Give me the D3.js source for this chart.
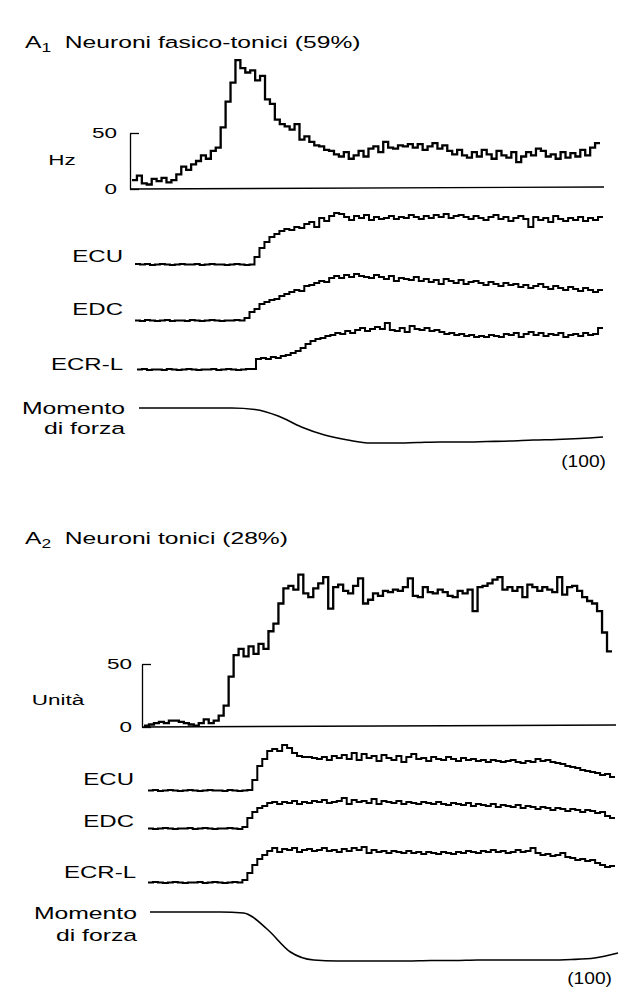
<!DOCTYPE html>
<html>
<head>
<meta charset="utf-8">
<script src="https://cdn.jsdelivr.net/npm/d3@7"></script>
<style>
  html, body { margin: 0; padding: 0; background: #fff; }
  svg { display: block; }
  text { font-family: "Liberation Sans", Arial, Helvetica, sans-serif; fill: #000; }
</style>
</head>
<body>
<svg id="chart" width="623" height="991"></svg>
<script>
// ---------------- DATA ----------------
const panelTitles = [
  { letter: "A", sub: "1", text: "Neuroni fasico-tonici (59%)" },
  { letter: "A", sub: "2", text: "Neuroni tonici (28%)" }
];
const histUnits = ["Hz", "Unità"];
const histTicks = [0, 50];
const muscleLabels = ["ECU", "EDC", "ECR-L"];
const torqueLabel = ["Momento", "di forza"];
const scaleNote = "(100)";

// A1 – phasic-tonic neurons: discharge rate (Hz), one value per bin
const a1Rate = [8,12,5,4,9,7,10,6,8,13,20,17,22,25,30,27,34,37,55,78,95,115,108,104,106,97,101,80,76,62,
  58,56,53,58,44,47,42,39,38,35,34,31,29,33,27,30,34,29,36,38,33,42,37,36,39,38,40,37,40,35,
  38,41,36,39,34,31,35,30,28,33,29,35,31,27,34,30,28,33,24,29,33,30,36,34,29,31,27,33,28,32,
  29,35,30,37,41];
// A1 EMG envelopes (relative units)
const a1ECU = [2,1,2,0,1,2,1,0,1,2,1,1,2,0,1,2,1,1,0,1,2,1,0,1,16,34,46,56,62,68,
  72,70,76,74,82,86,76,94,88,98,104,102,96,90,98,94,100,90,96,92,94,98,92,96,94,100,96,92,98,94,
  100,96,102,94,98,100,96,92,98,94,90,96,100,92,96,88,94,98,92,76,96,90,94,86,98,92,88,94,90,96,
  88,94,90,96];
const a1EDC = [1,0,2,1,0,1,2,0,1,1,0,2,1,0,1,2,1,0,1,1,2,1,6,18,24,34,38,42,44,50,
  54,58,62,60,70,72,76,80,78,86,90,86,92,88,94,90,88,86,92,88,84,90,80,86,84,82,88,80,84,78,
  82,74,84,80,76,82,74,78,80,76,72,78,74,70,76,72,74,68,72,66,70,74,68,64,70,66,62,68,64,60,
  66,62,58,62];
const a1ECRL = [1,2,0,1,1,0,2,1,0,1,2,1,0,1,1,2,0,1,2,1,0,1,2,2,22,24,22,26,24,28,
  30,34,38,44,52,58,62,64,68,70,74,72,78,74,80,84,78,82,86,82,94,80,78,84,76,88,82,80,84,78,
  80,76,72,74,70,72,68,70,66,68,66,70,68,66,72,70,74,66,72,76,70,74,68,72,70,74,66,70,72,68,
  74,70,72,84];
// torque samples (time in % of sweep, value in relative units)
const torqueTime = [0,5,10,15,20,25,30,35,40,45,50,55,60,65,70,75,80,85,90,95,100];
const a1Torque = [0,0,0,0,0,-1.5,-8,-19,-27,-32,-35,-35,-34.5,-34,-34,-33.5,-33,-32,-31.5,-30.5,-29];

// A2 – tonic neurons
const a2Rate = [1,2,3,4,3,5,5,4,3,2,1,3,6,3,5,9,17,40,57,62,56,64,58,66,62,76,82,98,110,112,
  109,121,106,103,110,114,119,94,111,113,108,106,112,118,98,101,106,104,108,107,109,108,111,118,104,103,111,107,106,109,
  107,104,103,108,106,109,92,111,112,114,117,119,109,111,108,111,103,113,111,108,111,109,107,119,105,111,112,108,103,100,
  98,92,75,60];
const a2ECU = [1,2,0,1,2,1,0,1,2,1,0,1,2,1,1,0,2,1,0,1,2,22,50,64,80,84,80,92,86,76,
  70,68,68,66,64,68,62,70,66,72,64,76,62,74,66,70,60,72,66,62,70,58,68,74,64,66,60,68,64,62,
  68,64,60,66,62,64,60,62,58,62,60,58,60,62,58,56,60,58,64,60,62,58,56,54,50,48,46,42,40,38,
  36,32,34,28];
const a2EDC = [1,0,1,2,1,0,1,1,2,0,1,2,1,0,1,1,2,1,0,4,22,34,42,46,52,54,50,54,52,56,
  50,54,52,56,54,58,52,54,56,62,50,58,54,56,52,60,50,56,54,52,56,50,54,52,50,54,52,50,54,50,
  48,52,50,48,52,46,50,48,46,50,44,48,46,44,48,42,46,44,40,44,42,38,42,40,36,40,38,34,38,36,
  32,34,26,22];
const a2ECRL = [1,2,1,0,1,2,1,0,1,1,2,0,1,2,1,0,1,2,1,6,20,36,48,56,64,70,62,68,66,70,
  62,66,68,64,66,70,64,66,62,68,64,70,66,72,60,66,62,64,60,64,62,60,64,60,62,58,62,60,58,62,
  60,58,62,60,64,62,60,64,62,66,62,64,60,62,66,62,64,70,60,56,58,54,56,60,52,50,46,48,44,46,
  40,36,32,34];
const a2Torque = [0,0,0,0,-1,-17,-40,-48,-49,-49,-49,-49,-48.5,-48.5,-48,-48,-48,-48,-47.5,-46,-41];

// ---------------- LAYOUT ----------------
const SX = 1.5;          // horizontal stretch of the printed lettering
const FS = 16;           // label font size
const svg = d3.select("#chart");

function label(x, y, txt, anchor, size, sx) {
  return svg.append("text")
    .attr("transform", `translate(${x},${y}) scale(${sx || SX},1)`)
    .attr("text-anchor", anchor || "start")
    .attr("dominant-baseline", "central")
    .style("font-size", (size || FS) + "px")
    .text(txt);
}

function title(x, y, t) {
  const el = svg.append("text")
    .attr("transform", `translate(${x},${y}) scale(1.45,1)`)
    .attr("dominant-baseline", "central")
    .style("font-size", "17px");
  el.append("tspan").text(t.letter);
  el.append("tspan").attr("dy", 5).style("font-size", "12px").text(t.sub);
  el.append("tspan").attr("dy", -5).text("\u00a0 " + t.text);
}

function stepTrace(values, xr, base, pxPer100, width) {
  const n = values.length;
  const x = d3.scaleLinear().domain([0, n]).range(xr);
  const y = d3.scaleLinear().domain([0, 100]).range([base, base - pxPer100]);
  const pts = values.map((v, i) => [i, v]).concat([[n, values[n - 1]]]);
  svg.append("path")
    .attr("d", d3.line().x(d => x(d[0])).y(d => y(d[1])).curve(d3.curveStepAfter)(pts))
    .attr("fill", "none").attr("stroke", "#000")
    .attr("stroke-width", width || 2).attr("stroke-linejoin", "miter");
}

function torque(values, xr, base, pxPerUnit) {
  const x = d3.scaleLinear().domain([0, 100]).range(xr);
  const y = d3.scaleLinear().domain([0, -50]).range([base, base + 50 * pxPerUnit]);
  svg.append("path")
    .attr("d", d3.line().x((d, i) => x(torqueTime[i])).y(d => y(d)).curve(d3.curveMonotoneX)(values))
    .attr("fill", "none").attr("stroke", "#000").attr("stroke-width", 1.6);
}

function histogram(values, axisX, xEnd, y0, y50, unit, unitPos, pad) {
  const n = values.length;
  const x = d3.scaleLinear().domain([0, n]).range([axisX + 2, xEnd]);
  const y = d3.scaleLinear().domain([0, 50]).range([y0, y50]);
  const ax = svg.append("g").attr("transform", `translate(${axisX},0)`)
    .call(d3.axisLeft(y).tickValues(histTicks).tickSize(-9).tickSizeOuter(0).tickPadding(pad));
  ax.select(".domain").attr("stroke", "#000").attr("stroke-width", 1.3);
  ax.selectAll(".tick line").attr("stroke", "#000").attr("stroke-width", 1.3);
  ax.selectAll(".tick text")
    .style("font-family", '"Liberation Sans", Arial, sans-serif')
    .style("font-size", "15px").attr("fill", "#000")
    .attr("transform", function () { return `translate(${this.getAttribute("x")},0) scale(${SX},1) translate(${-this.getAttribute("x")},0)`; });
  // baseline
  svg.append("line").attr("x1", axisX).attr("x2", xEnd + 4)
    .attr("y1", y(0)).attr("y2", y(0) - 2).attr("stroke", "#000").attr("stroke-width", 1.4);
  const pts = values.map((v, i) => [i, v]).concat([[n, values[n - 1]]]);
  svg.append("path")
    .attr("d", d3.line().x(d => x(d[0])).y(d => y(d[1])).curve(d3.curveStepAfter)(pts))
    .attr("fill", "none").attr("stroke", "#000").attr("stroke-width", 2.3);
  label(unitPos[0], unitPos[1], unit, "middle", 15);
}

// ---------- Panel A1 ----------
title(25, 42, panelTitles[0]);
histogram(a1Rate, 130, 600, 189, 133, histUnits[0], [62, 160], 13);
stepTrace(a1ECU, [135, 603], 265, 50);
stepTrace(a1EDC, [135, 603], 321, 50);
stepTrace(a1ECRL, [137, 603], 370, 50);
torque(a1Torque, [139, 603], 408, 1);
label(123, 257, muscleLabels[0], "end");
label(123, 310, muscleLabels[1], "end");
label(123, 365, muscleLabels[2], "end");
label(125, 408, torqueLabel[0], "end", 16.5);
label(125, 428, torqueLabel[1], "end", 16.5);
label(606, 462, scaleNote, "end", 16, 1.2);

// ---------- Panel A2 ----------
title(25, 538, panelTitles[1]);
histogram(a2Rate, 142, 612, 727, 664, histUnits[1], [58, 700], 10);
stepTrace(a2ECU, [148, 615], 791, 50);
stepTrace(a2EDC, [148, 615], 829, 50);
stepTrace(a2ECRL, [148, 615], 883, 50);
torque(a2Torque, [150, 618], 912, 1);
label(134, 780, muscleLabels[0], "end");
label(134, 822, muscleLabels[1], "end");
label(136, 873, muscleLabels[2], "end");
label(137, 913, torqueLabel[0], "end", 16.5);
label(137, 935, torqueLabel[1], "end", 16.5);
label(612, 979, scaleNote, "end", 16, 1.2);
</script>
</body>
</html>
